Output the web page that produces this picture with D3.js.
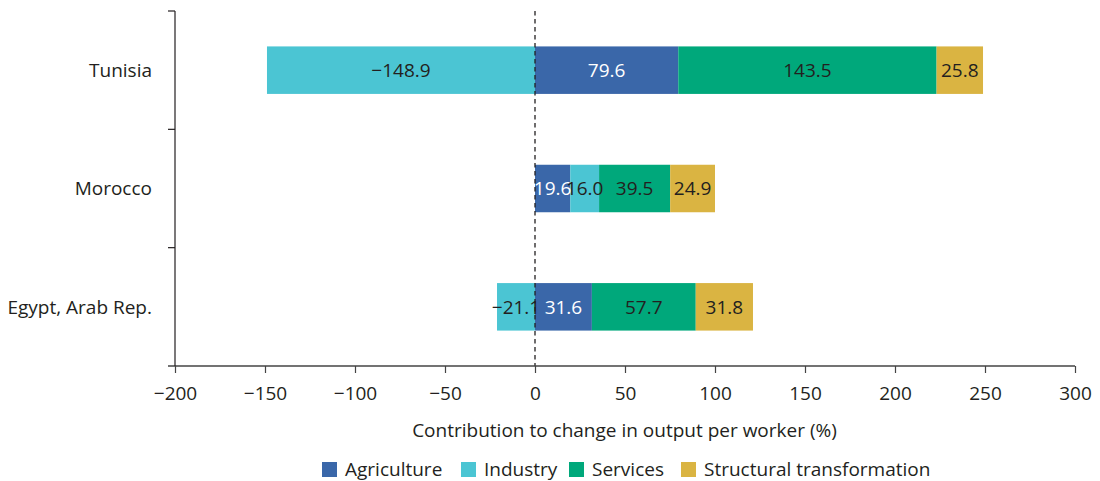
<!DOCTYPE html>
<html>
<head>
<meta charset="utf-8">
<script src="https://cdn.jsdelivr.net/npm/d3@7"></script>
<style>
  html, body { margin: 0; padding: 0; background: #fff; }
  svg { display: block; }
  text { font-family: "Open Sans", "Noto Sans", sans-serif; fill: #231f20; }
</style>
</head>
<body>
<svg id="chart" width="1100" height="481"></svg>
<script>
const categories = ["Tunisia", "Morocco", "Egypt, Arab Rep."];
const seriesNames = ["Agriculture", "Industry", "Services", "Structural transformation"];
const agriculture = [79.6, 19.6, 31.6];
const industry = [-148.9, 16.0, -21.1];
const services = [143.5, 39.5, 57.7];
const structural = [25.8, 24.9, 31.8];
const xTicks = [-200, -150, -100, -50, 0, 50, 100, 150, 200, 250, 300];
const colors = ["#3a67a9", "#4bc5d3", "#00a87b", "#dab442"];
const labelColors = ["#ffffff", "#231f20", "#231f20", "#231f20"];
const xTitle = "Contribution to change in output per worker (%)";

const seriesValues = [agriculture, industry, services, structural];
const FS = "19px";

const svg = d3.select("#chart");
const x = d3.scaleLinear().domain([-200, 300]).range([175, 1075]);
const y = d3.scaleBand().domain(categories).range([11, 366]).paddingInner(0).paddingOuter(0);
const barH = 47.5;

// stack segments
const segs = [];
categories.forEach((c, i) => {
  let pos = 0, neg = 0;
  seriesValues.forEach((vals, s) => {
    const v = vals[i];
    let x0, x1;
    if (v >= 0) { x0 = pos; x1 = pos + v; pos = x1; }
    else { x0 = neg + v; x1 = neg; neg = x0; }
    segs.push({ cat: c, s, v, x0, x1 });
  });
});

const fmt = v => (v < 0 ? "\u2212" : "") + Math.abs(v).toFixed(1);

const g = svg.append("g");
g.selectAll("rect.bar").data(segs).join("rect")
  .attr("class", "bar")
  .attr("x", d => x(d.x0))
  .attr("width", d => x(d.x1) - x(d.x0))
  .attr("y", d => y(d.cat) + y.bandwidth() / 2 - barH / 2)
  .attr("height", barH)
  .attr("fill", d => colors[d.s]);

g.selectAll("text.lbl").data(segs).join("text")
  .attr("class", "lbl")
  .attr("x", d => (x(d.x0) + x(d.x1)) / 2)
  .attr("y", d => y(d.cat) + y.bandwidth() / 2)
  .attr("dy", "0.36em")
  .attr("text-anchor", "middle")
  .style("font-size", FS)
  .style("fill", d => labelColors[d.s])
  .text(d => fmt(d.v));

// zero dashed line
svg.append("line")
  .attr("x1", x(0)).attr("x2", x(0))
  .attr("y1", 11).attr("y2", 366)
  .attr("stroke", "#231f20").attr("stroke-width", 1.3)
  .attr("stroke-dasharray", "4.5,3.5");

// x axis
const xAxis = svg.append("g").attr("transform", "translate(0,366)")
  .call(d3.axisBottom(x).tickValues(xTicks).tickSize(7).tickPadding(14)
    .tickFormat(d => (d < 0 ? "\u2212" : "") + Math.abs(d)));
xAxis.select(".domain").attr("stroke", "#444").attr("stroke-width", 1.4)
  .attr("d", "M168,0H1075");
xAxis.selectAll(".tick line").attr("stroke", "#444").attr("stroke-width", 1.2);
xAxis.selectAll(".tick text").style("font-size", FS).style("fill", "#231f20")
  .attr("font-family", null);

// y axis
const yAxis = svg.append("g").attr("transform", "translate(175,0)");
yAxis.append("line").attr("x1", 0).attr("x2", 0).attr("y1", 11).attr("y2", 366)
  .attr("stroke", "#231f20").attr("stroke-width", 1.2);
const bounds = categories.map(c => y(c));
yAxis.selectAll("line.tk").data(bounds).join("line")
  .attr("class", "tk")
  .attr("x1", -7).attr("x2", 0)
  .attr("y1", d => d).attr("y2", d => d)
  .attr("stroke", "#231f20").attr("stroke-width", 1.2);
svg.selectAll("text.cat").data(categories).join("text")
  .attr("class", "cat")
  .attr("x", 152)
  .attr("y", d => y(d) + y.bandwidth() / 2)
  .attr("dy", "0.36em")
  .attr("text-anchor", "end")
  .style("font-size", FS)
  .text(d => d);

// x title
svg.append("text")
  .attr("x", (410 + 839) / 2).attr("y", 437)
  .attr("text-anchor", "middle")
  .style("font-size", FS)
  .text(xTitle);

// legend
const legendX = [322, 461, 569, 681];
const lg = svg.selectAll("g.leg").data(seriesNames).join("g")
  .attr("class", "leg")
  .attr("transform", (d, i) => `translate(${legendX[i]},462)`);
lg.append("rect").attr("width", 15).attr("height", 15).attr("fill", (d, i) => colors[i]);
lg.append("text").attr("x", 23).attr("y", 7.5).attr("dy", "0.36em")
  .style("font-size", FS).text(d => d);
</script>
</body>
</html>
